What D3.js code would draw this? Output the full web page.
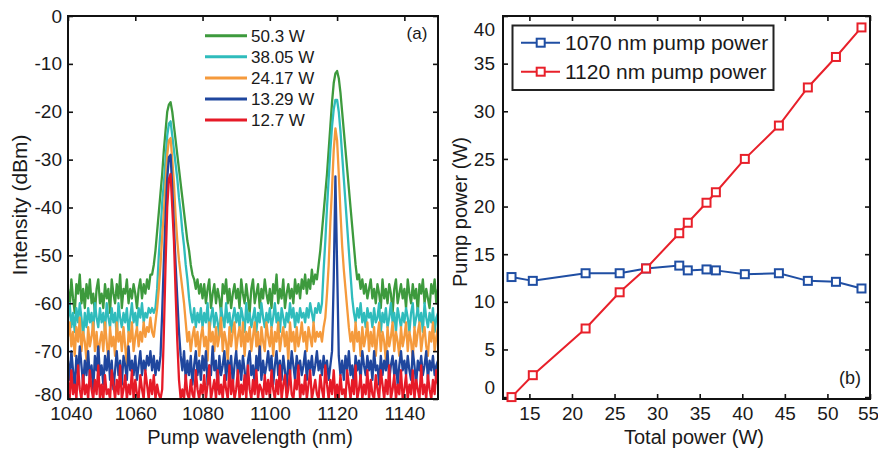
<!DOCTYPE html>
<html>
<head>
<meta charset="utf-8">
<script src="https://cdn.jsdelivr.net/npm/d3@7"></script>
<style>
  body { margin: 0; background: #fff; }
  svg text { font-family: "Liberation Sans", Arial, sans-serif; fill: #1a1a1a; }
</style>
</head>
<body>
<div class="graphic"></div>
<script>
// ---- (a) spectra, every 0.5 nm from 1040 to 1150 nm ----
var wavelengths = d3.range(1040, 1150.001, 0.5);

var spec50_3 = [
  -57,-61,-55,-59,-62,-56,-58,-54,-60,-57,-61,-56,-59,-55,-60,-58,-62,-57,-55,-60,
  -58,-61,-56,-59,-57,-62,-55,-58,-60,-56,-59,-54,-61,-57,-58,-55,-60,-57,-59,-56,
  -58,-61,-57,-55,-59,-56,-58,-55,-57,-54,-54,-52,-49,-45,-41,-37,-33,-28,-24,-20,
  -18.5,-18,-20,-23,-26,-29,-32,-35,-38,-41,-44,-47,-49,-52,-54,-55,-57,-55,-58,-56,
  -59,-56,-60,-57,-55,-61,-58,-56,-60,-57,-59,-62,-56,-58,-55,-60,-57,-61,-58,-56,
  -59,-57,-61,-55,-58,-60,-56,-59,-62,-57,-55,-60,-58,-56,-61,-57,-59,-55,-58,-60,
  -57,-61,-56,-58,-54,-60,-57,-59,-55,-61,-58,-56,-59,-57,-60,-55,-58,-56,-59,-55,
  -57,-54,-58,-55,-57,-53,-56,-54,-55,-52,-49,-45,-41,-37,-33,-28,-23,-18,-14,-12,
  -11.5,-13,-16,-20,-24,-28,-32,-36,-40,-44,-48,-52,-55,-54,-57,-55,-58,-56,-59,-57,
  -55,-59,-57,-60,-56,-58,-61,-55,-59,-57,-60,-56,-58,-62,-57,-55,-60,-58,-56,-59,
  -57,-61,-55,-58,-60,-56,-59,-57,-62,-56,-58,-55,-60,-57,-59,-61,-56,-58,-55,-60,-57
];
var spec38_05 = [
  -63,-60,-65,-62,-66,-61,-64,-60,-63,-67,-62,-65,-61,-64,-62,-66,-60,-63,-65,-61,
  -64,-62,-66,-60,-63,-65,-61,-64,-62,-67,-60,-63,-65,-62,-64,-61,-66,-63,-60,-64,
  -62,-65,-61,-63,-60,-64,-62,-63,-61,-62,-61,-62,-61,-57,-50,-45,-39,-35,-30,-25,
  -22.5,-22,-25,-28,-31,-34,-38,-41,-45,-48,-52,-55,-59,-62,-64,-61,-65,-62,-64,-61,
  -65,-62,-64,-60,-66,-63,-61,-65,-62,-64,-67,-61,-63,-65,-60,-64,-62,-66,-63,-61,
  -64,-62,-65,-61,-63,-66,-60,-64,-62,-65,-63,-61,-66,-62,-64,-60,-63,-65,-62,-64,
  -61,-65,-63,-60,-64,-62,-66,-61,-63,-65,-62,-64,-60,-63,-61,-65,-62,-64,-61,-63,
  -62,-64,-61,-63,-60,-62,-64,-61,-62,-60,-62,-60,-53,-47,-40,-34,-28,-23,-19.5,-17.5,
  -17.5,-20,-24,-29,-34,-39,-44,-49,-54,-59,-62,-64,-61,-63,-60,-64,-62,-65,-61,-63,
  -62,-65,-61,-64,-63,-60,-66,-62,-64,-61,-65,-63,-60,-64,-62,-66,-61,-63,-65,-62,
  -64,-61,-63,-66,-62,-60,-65,-63,-61,-64,-62,-66,-60,-63,-65,-62,-64,-61,-66,-63,-62
];
var spec24_17 = [
  -67,-64,-69,-66,-71,-65,-68,-63,-70,-66,-68,-72,-65,-69,-67,-64,-70,-66,-71,-68,
  -66,-70,-64,-68,-72,-65,-69,-67,-71,-64,-68,-66,-70,-65,-69,-73,-66,-68,-64,-70,
  -67,-65,-69,-66,-68,-64,-67,-65,-66,-63,-66,-67,-64,-61,-57,-52,-46,-41,-35,-29,
  -26,-25.5,-30,-35,-42,-47,-51,-54,-57,-60,-64,-68,-66,-70,-67,-65,-69,-66,-71,-67,
  -65,-69,-67,-72,-64,-68,-66,-70,-65,-69,-67,-63,-70,-66,-68,-72,-65,-69,-66,-64,
  -70,-67,-65,-69,-64,-71,-66,-68,-65,-70,-67,-64,-69,-66,-72,-65,-68,-70,-64,-67,
  -69,-65,-71,-66,-68,-64,-70,-67,-65,-69,-66,-72,-64,-68,-66,-70,-65,-69,-67,-64,
  -68,-66,-70,-65,-67,-69,-64,-68,-66,-67,-66,-68,-65,-63,-58,-52,-43,-36,-28,-23.5,
  -26,-33,-41,-48,-53,-57,-61,-65,-68,-66,-70,-64,-68,-66,-71,-65,-69,-67,-64,-70,
  -66,-69,-65,-71,-67,-64,-70,-66,-68,-72,-65,-69,-67,-64,-70,-66,-68,-71,-65,-69,
  -67,-64,-70,-66,-68,-72,-65,-69,-66,-64,-70,-67,-65,-69,-71,-66,-68,-64,-70,-67,-65
];
var spec13_29 = [
  -72,-76,-70,-74,-78,-71,-75,-69,-73,-77,-72,-75,-70,-76,-73,-78,-71,-74,-69,-75,
  -73,-77,-71,-74,-70,-76,-72,-78,-74,-70,-75,-72,-77,-71,-73,-76,-69,-74,-72,-75,
  -71,-76,-73,-70,-75,-72,-74,-71,-73,-70,-74,-71,-75,-72,-74,-71,-62,-51,-42,-34,
  -29.5,-29,-36,-44,-52,-59,-66,-71,-74,-70,-76,-72,-75,-71,-77,-73,-70,-75,-72,-76,
  -71,-74,-70,-77,-73,-75,-69,-74,-72,-78,-71,-75,-73,-70,-76,-72,-74,-71,-77,-73,
  -70,-75,-72,-76,-71,-74,-78,-72,-70,-75,-73,-77,-71,-74,-69,-76,-72,-75,-73,-70,
  -74,-71,-77,-73,-70,-75,-72,-76,-71,-74,-78,-72,-75,-70,-73,-76,-71,-74,-72,-75,
  -73,-70,-76,-72,-74,-71,-75,-73,-70,-74,-72,-75,-71,-74,-72,-76,-73,-70,-55,-33.5,
  -52,-71,-75,-72,-76,-71,-74,-70,-75,-73,-77,-71,-74,-72,-76,-70,-73,-75,-71,-74,
  -72,-76,-70,-74,-73,-77,-71,-75,-72,-74,-70,-76,-73,-71,-75,-72,-77,-73,-70,-74,
  -72,-75,-71,-74,-76,-70,-73,-77,-72,-74,-71,-75,-73,-70,-76,-72,-74,-71,-75,-73,-72
];
var spec12_7 = [
  -76,-80,-74,-79,-77,-80,-73,-78,-80,-75,-79,-77,-80,-74,-78,-80,-76,-79,-73,-80,
  -77,-80,-75,-79,-78,-80,-74,-77,-80,-76,-79,-73,-80,-78,-75,-80,-77,-79,-74,-80,
  -76,-79,-80,-75,-78,-80,-74,-77,-80,-76,-79,-75,-80,-77,-79,-80,-78,-66,-52,-40,
  -34,-33,-40,-47,-58,-68,-76,-80,-78,-80,-75,-79,-80,-76,-79,-80,-74,-78,-80,-77,
  -79,-75,-80,-77,-73,-80,-78,-76,-80,-74,-79,-77,-80,-75,-78,-80,-73,-79,-76,-80,
  -78,-74,-80,-77,-79,-75,-80,-73,-78,-80,-76,-79,-74,-80,-77,-78,-80,-75,-79,-76,
  -80,-74,-78,-80,-76,-79,-73,-80,-77,-75,-80,-78,-74,-79,-80,-76,-78,-73,-80,-77,
  -79,-75,-80,-77,-74,-80,-78,-76,-79,-80,-75,-78,-80,-73,-77,-80,-76,-79,-74,-80,
  -77,-80,-75,-79,-78,-80,-74,-77,-80,-76,-79,-73,-80,-78,-75,-80,-77,-79,-74,-80,
  -76,-79,-80,-75,-78,-80,-74,-77,-80,-76,-79,-73,-80,-78,-75,-80,-77,-79,-74,-80,
  -78,-75,-80,-77,-79,-74,-80,-76,-78,-80,-73,-79,-77,-80,-75,-78,-80,-76,-79,-74,-77
];
var specLabels = ["50.3 W", "38.05 W", "24.17 W", "13.29 W", "12.7 W"];
var specColors = ["#3d9a3d", "#2fbcbc", "#f59a3c", "#1f469e", "#e61a27"];
var wlTicks = [1040, 1060, 1080, 1100, 1120, 1140];
var dbmTicks = [-80, -70, -60, -50, -40, -30, -20, -10, 0];

// ---- (b) pump powers vs total power ----
var totalPower = [12.9, 15.4, 21.6, 25.6, 28.7, 32.6, 33.6, 35.8, 36.9, 40.3, 44.3, 47.7, 51.0, 54.0];
var pump1070 = [12.6, 12.2, 13.0, 13.0, 13.5, 13.8, 13.3, 13.4, 13.3, 12.9, 13.0, 12.2, 12.1, 11.4];
var pump1120 = [0.0, 2.3, 7.2, 11.0, 13.5, 17.2, 18.3, 20.4, 21.5, 25.0, 28.5, 32.5, 35.7, 38.8];
var pumpLabels = ["1070 nm pump power", "1120 nm pump power"];
var pumpColors = ["#1f4ea3", "#e8202a"];
var totalTicks = [15, 20, 25, 30, 35, 40, 45, 50, 55];
var pumpTicks = [0, 5, 10, 15, 20, 25, 30, 35, 40];

var svg = d3.select(".graphic").append("svg")
  .attr("width", 878).attr("height", 449);

// plain hyphen minus like the original, not the unicode minus d3 uses
function plain(d) { return String(d); }

function boxAxes(g, x, y, xt, yt, xPad, yPad) {
  // ticks point inward on all four sides, MATLAB style
  var h = y.range()[0] - y.range()[1], w = x.range()[1] - x.range()[0];
  g.append("g").attr("transform", "translate(0," + y.range()[0] + ")")
    .call(d3.axisBottom(x).tickValues(xt).tickSize(-5).tickPadding(xPad).tickFormat(plain))
    .attr("class", "xb");
  g.append("g").attr("transform", "translate(0," + y.range()[1] + ")")
    .call(d3.axisTop(x).tickValues(xt).tickSize(-5).tickFormat(""));
  g.append("g").attr("transform", "translate(" + x.range()[0] + ",0)")
    .call(d3.axisLeft(y).tickValues(yt).tickSize(-5).tickPadding(yPad).tickFormat(plain))
    .attr("class", "yl");
  g.append("g").attr("transform", "translate(" + x.range()[1] + ",0)")
    .call(d3.axisRight(y).tickValues(yt).tickSize(-5).tickFormat(""));
  g.selectAll(".domain").remove();
  g.selectAll(".tick line").attr("stroke", "#111").attr("stroke-width", 1.6);
  g.selectAll(".tick text").attr("font-size", 19).attr("fill", "#1a1a1a")
    .attr("font-family", "Liberation Sans, Arial, sans-serif");
  g.append("rect").attr("x", x.range()[0]).attr("y", y.range()[1])
    .attr("width", w).attr("height", h)
    .attr("fill", "none").attr("stroke", "#111").attr("stroke-width", 2);
}

// ================= panel (a) =================
var xA = d3.scaleLinear().domain([1040, 1150]).range([68, 438]);
var yA = d3.scaleLinear().domain([-80, 0]).range([399, 16]);
var gA = svg.append("g");

gA.append("clipPath").attr("id", "clipA").append("rect")
  .attr("x", 68).attr("y", 16).attr("width", 370).attr("height", 383);

var spectra = [spec50_3, spec38_05, spec24_17, spec13_29, spec12_7];
var specLine = d3.line()
  .x(function(d, i) { return xA(wavelengths[i]); })
  .y(function(d) { return yA(d); });

gA.append("g").attr("clip-path", "url(#clipA)")
  .selectAll("path").data(spectra).enter().append("path")
  .attr("d", specLine)
  .attr("fill", "none")
  .attr("stroke", function(d, i) { return specColors[i]; })
  .attr("stroke-width", 2.3)
  .attr("stroke-linejoin", "round");

boxAxes(gA, xA, yA, wlTicks, dbmTicks, 8, 6);
// keep the corner labels -80 and 1040 apart
gA.selectAll(".yl .tick text").attr("dy", function(d) { return d === -80 ? "0.1em" : "0.32em"; });
gA.selectAll(".xb .tick text").attr("dx", function(d) { return d === 1040 ? "0.15em" : 0; });

// legend (a)
var legA = gA.append("g");
specLabels.forEach(function(lab, i) {
  var yy = 35.7 + i * 21.1;
  legA.append("line").attr("x1", 205).attr("x2", 247).attr("y1", yy).attr("y2", yy)
    .attr("stroke", specColors[i]).attr("stroke-width", 3);
  legA.append("text").attr("x", 251).attr("y", yy + 6).attr("font-size", 17).text(lab);
});
gA.append("text").attr("x", 417).attr("y", 39).attr("text-anchor", "middle")
  .attr("font-size", 17).text("(a)");

gA.append("text").attr("x", 250).attr("y", 444).attr("text-anchor", "middle")
  .attr("font-size", 20).text("Pump wavelength (nm)");
gA.append("text").attr("transform", "translate(27,205) rotate(-90)")
  .attr("text-anchor", "middle").attr("font-size", 21).text("Intensity (dBm)");

// ================= panel (b) =================
var xB = d3.scaleLinear().domain([11.9, 55]).range([503, 870]);
var yB = d3.scaleLinear().domain([-0.2, 40]).range([399, 16]);
var gB = svg.append("g");

boxAxes(gB, xB, yB, totalTicks, pumpTicks, 8, 8);
// end labels sit inside the box in the original
gB.selectAll(".yl .tick text").attr("dy", function(d) {
  return d === 40 ? "1.05em" : d === 0 ? "-0.2em" : "0.32em";
});
gB.selectAll(".xb .tick text").attr("dx", function(d) { return d === 55 ? "-0.1em" : 0; });

var pumpSeries = [pump1070, pump1120];
var pumpLine = d3.line()
  .x(function(d, i) { return xB(totalPower[i]); })
  .y(function(d) { return yB(d); });

pumpSeries.forEach(function(s, k) {
  gB.append("path").datum(s).attr("d", pumpLine)
    .attr("fill", "none").attr("stroke", pumpColors[k]).attr("stroke-width", 2);
  gB.selectAll(".m" + k).data(s).enter().append("rect")
    .attr("class", "m" + k)
    .attr("x", function(d, i) { return xB(totalPower[i]) - 4; })
    .attr("y", function(d) { return yB(d) - 4; })
    .attr("width", 8).attr("height", 8)
    .attr("fill", "#fff").attr("stroke", pumpColors[k]).attr("stroke-width", 2);
});

// legend (b)
var legB = gB.append("g");
legB.append("rect").attr("x", 512.5).attr("y", 25.5).attr("width", 261).attr("height", 64.5)
  .attr("fill", "#fff").attr("stroke", "#222").attr("stroke-width", 2);
pumpLabels.forEach(function(lab, k) {
  var yy = 42.7 + k * 29;
  legB.append("line").attr("x1", 521).attr("x2", 560).attr("y1", yy).attr("y2", yy)
    .attr("stroke", pumpColors[k]).attr("stroke-width", 2);
  legB.append("rect").attr("x", 536.7).attr("y", yy - 4).attr("width", 8).attr("height", 8)
    .attr("fill", "#fff").attr("stroke", pumpColors[k]).attr("stroke-width", 2);
  legB.append("text").attr("x", 565).attr("y", yy + 7.5).attr("font-size", 21).text(lab);
});
gB.append("text").attr("x", 850).attr("y", 384).attr("text-anchor", "middle")
  .attr("font-size", 18).text("(b)");

gB.append("text").attr("x", 694).attr("y", 444).attr("text-anchor", "middle")
  .attr("font-size", 20).text("Total power (W)");
gB.append("text").attr("transform", "translate(467,212) rotate(-90)")
  .attr("text-anchor", "middle").attr("font-size", 20).text("Pump power (W)");
</script>
</body>
</html>
